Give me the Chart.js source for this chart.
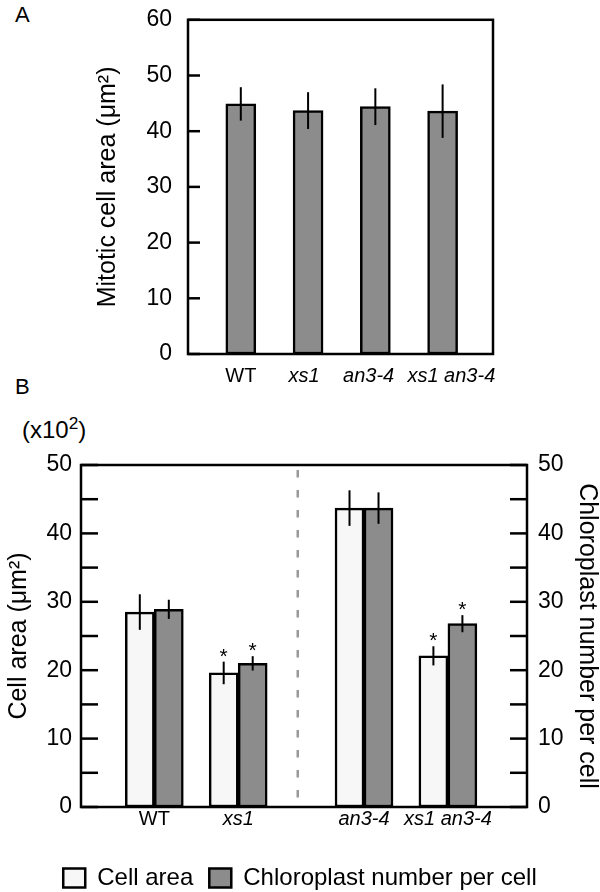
<!DOCTYPE html>
<html>
<head>
<meta charset="utf-8">
<script src="https://cdn.jsdelivr.net/npm/chart.js@4.4.0/dist/chart.umd.min.js"></script>
<style>
  body { margin: 0; background: #fff; width: 600px; height: 892px; position: relative; overflow: hidden;
         font-family: "Liberation Sans", Arial, sans-serif; color: #000; }
  canvas { position: absolute; left: 0; }
  #chartA { top: -10px; }
  #chartB { top: 380px; }
  .lbl { position: absolute; font-size: 22px; line-height: 1; white-space: nowrap; }
  .lbl sup { font-size: 0.72em; vertical-align: 0.5em; line-height: 0; }
</style>
</head>
<body>
<div class="lbl" style="left:15px; top:4px;">A</div>
<div class="lbl" style="left:15px; top:376px;">B</div>
<div class="lbl" style="left:22px; top:418px; font-size:24px;">(x10<sup>2</sup>)</div>
<canvas id="chartA" width="600" height="410"></canvas>
<canvas id="chartB" width="600" height="520"></canvas>
<script>
// Panel A: mitotic cell area
const genotypesA = ['WT', 'xs1', 'an3-4', 'xs1 an3-4'];
const slotsA = [1, 2, 3, 4];
const labelSlotsA = [1, 1.94, 2.9, 4.13];
const mitoticArea = [44.9, 43.7, 44.4, 43.6];
const mitoticErr = [3.0, 3.3, 3.3, 4.8];

// Panel B: cell area (x10^2 um2) and chloroplast number per cell
const genotypesB = ['WT', 'xs1', 'an3-4', 'xs1 an3-4'];
const slotsB = [1, 2, 3.5, 4.5];
const cellArea = [28.5, 19.6, 43.7, 22.1];
const cellAreaErr = [2.6, 1.65, 2.6, 1.4];
const cellAreaSig = [false, true, false, true];
const chloroNumber = [28.9, 21.0, 43.7, 26.8];
const chloroErr = [1.4, 1.05, 2.3, 1.25];
const chloroSig = [false, true, false, true];
const dividerAt = 2.71;

const FONT = '"Liberation Sans", Arial, sans-serif';
const GRAY = '#8c8c8c';
const WHITE = '#f7f7f7';

Chart.defaults.font.family = FONT;
Chart.defaults.color = '#000';

// error bars, asterisks, frame, inward ticks, divider
const decorPlugin = {
    id: 'decor',
    afterDatasetsDraw(chart, args, opts) {
        const ctx = chart.ctx;
        const a = chart.chartArea;
        ctx.save();

        if (opts.divider !== undefined) {
            const x = chart.scales.x.getPixelForValue(opts.divider);
            ctx.strokeStyle = '#999';
            ctx.lineWidth = 2.5;
            ctx.setLineDash([7.5, 12.5]);
            ctx.beginPath();
            ctx.moveTo(x, a.top + 5);
            ctx.lineTo(x, a.bottom);
            ctx.stroke();
            ctx.setLineDash([]);
        }

        chart.data.datasets.forEach((ds, i) => {
            const meta = chart.getDatasetMeta(i);
            const yScale = chart.scales[meta.yAxisID];
            meta.data.forEach((bar, j) => {
                const v = ds.data[j].y;
                const e = ds.errors[j];
                const top = yScale.getPixelForValue(v + e);
                const bot = yScale.getPixelForValue(v - e);
                ctx.strokeStyle = '#000';
                ctx.lineWidth = 2;
                ctx.beginPath();
                ctx.moveTo(bar.x, top);
                ctx.lineTo(bar.x, bot);
                ctx.stroke();
                if (ds.stars && ds.stars[j]) {
                    ctx.fillStyle = '#000';
                    ctx.font = '21px ' + FONT;
                    ctx.textAlign = 'center';
                    ctx.textBaseline = 'alphabetic';
                    ctx.fillText('*', bar.x, top + 1);
                }
            });
        });

        ctx.strokeStyle = '#000';
        ctx.lineWidth = 2.5;
        ctx.strokeRect(a.left, a.top, a.width, a.height);

        opts.tickAxes.forEach(id => {
            const s = chart.scales[id];
            const x0 = s.position === 'left' ? a.left : a.right;
            const x1 = s.position === 'left' ? x0 + opts.tickLength : x0 - opts.tickLength;
            s.ticks.forEach(t => {
                const y = s.getPixelForValue(t.value);
                ctx.beginPath();
                ctx.moveTo(x0, y);
                ctx.lineTo(x1, y);
                ctx.stroke();
            });
        });
        ctx.restore();
    }
};

function genotypeFont(size) {
    return (c) => ({ family: FONT, size: size, style: c.index === 0 ? 'normal' : 'italic' });
}

const noGrid = { display: false, drawTicks: false };

new Chart(document.getElementById('chartA'), {
    type: 'bar',
    data: {
        datasets: [{
            label: 'Mitotic cell area',
            data: slotsA.map((x, i) => ({ x: x, y: mitoticArea[i] })),
            errors: mitoticErr,
            backgroundColor: GRAY,
            borderColor: '#000',
            borderWidth: 2.5,
            borderSkipped: false,
            barThickness: 30
        }]
    },
    options: {
        responsive: false,
        animation: false,
        layout: { padding: { top: 20, right: 107, left: 0, bottom: 0 } },
        plugins: {
            legend: { display: false },
            tooltip: { enabled: false },
            decor: { tickAxes: ['y'], tickLength: 12 }
        },
        scales: {
            x: {
                type: 'linear',
                offset: false,
                min: 0.215,
                max: 4.749,
                grid: noGrid,
                border: { display: false },
                afterBuildTicks: (s) => { s.ticks = labelSlotsA.map(v => ({ value: v })); },
                afterFit: (s) => { s.height = 46; },
                ticks: {
                    autoSkip: false,
                    maxRotation: 0,
                    padding: 10,
                    font: genotypeFont(20),
                    callback: (v, i) => genotypesA[i]
                }
            },
            y: {
                min: 0,
                max: 60,
                grid: noGrid,
                border: { display: false },
                afterFit: (s) => { s.width = 188; },
                ticks: { stepSize: 10, padding: 16, font: { size: 23 } },
                title: {
                    display: true,
                    text: 'Mitotic cell area (μm²)',
                    font: { size: 25 },
                    padding: { top: 93, bottom: 0 }
                }
            }
        }
    },
    plugins: [decorPlugin]
});

new Chart(document.getElementById('chartB'), {
    type: 'bar',
    data: {
        datasets: [{
            label: 'Cell area',
            data: slotsB.map((x, i) => ({ x: x, y: cellArea[i] })),
            errors: cellAreaErr,
            stars: cellAreaSig,
            yAxisID: 'y',
            backgroundColor: WHITE,
            borderColor: '#000',
            borderWidth: 2.5,
            borderSkipped: false,
            barThickness: 29
        }, {
            label: 'Chloroplast number per cell',
            data: slotsB.map((x, i) => ({ x: x, y: chloroNumber[i] })),
            errors: chloroErr,
            stars: chloroSig,
            yAxisID: 'y2',
            backgroundColor: GRAY,
            borderColor: '#000',
            borderWidth: 2.5,
            borderSkipped: false,
            barThickness: 29
        }]
    },
    options: {
        responsive: false,
        animation: false,
        layout: { padding: { top: 85, right: 0, left: 0, bottom: 0 } },
        plugins: {
            legend: {
                position: 'bottom',
                labels: {
                    font: { size: 24 },
                    boxWidth: 22,
                    boxHeight: 19,
                    padding: 16
                }
            },
            tooltip: { enabled: false },
            decor: { tickAxes: ['y', 'y2'], tickLength: 17, divider: dividerAt }
        },
        scales: {
            x: {
                type: 'linear',
                offset: false,
                min: 0.126,
                max: 5.443,
                grid: noGrid,
                border: { display: false },
                afterBuildTicks: (s) => { s.ticks = slotsB.map(v => ({ value: v })); },
                afterFit: (s) => { s.height = 43; },
                ticks: {
                    autoSkip: false,
                    maxRotation: 0,
                    padding: 0,
                    font: genotypeFont(20),
                    callback: (v, i) => genotypesB[i]
                }
            },
            y: {
                position: 'left',
                min: 0,
                max: 50,
                grid: noGrid,
                border: { display: false },
                afterFit: (s) => { s.width = 81; },
                ticks: {
                    stepSize: 5,
                    padding: 9,
                    font: { size: 23 },
                    callback: (v) => (v % 10 === 0 ? v : '')
                },
                title: {
                    display: true,
                    text: 'Cell area (μm²)',
                    font: { size: 25 },
                    padding: { top: 4, bottom: 0 }
                }
            },
            y2: {
                position: 'right',
                min: 0,
                max: 50,
                grid: noGrid,
                border: { display: false },
                afterFit: (s) => { s.width = 73; },
                ticks: {
                    stepSize: 5,
                    padding: 11,
                    font: { size: 23 },
                    callback: (v) => (v % 10 === 0 ? v : '')
                },
                title: {
                    display: true,
                    text: 'Chloroplast number per cell',
                    font: { size: 25 },
                    padding: { top: -2, bottom: 0 }
                }
            }
        }
    },
    plugins: [decorPlugin]
});
</script>
</body>
</html>
